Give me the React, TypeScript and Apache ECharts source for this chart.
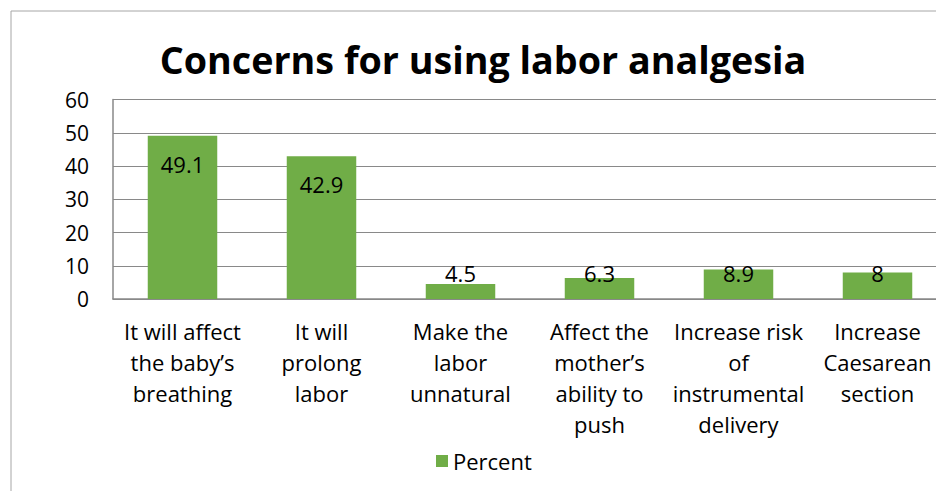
import React, { useEffect, useRef } from "react";
import * as echarts from "echarts";

const categories = [
  "It will affect\nthe baby’s\nbreathing",
  "It will\nprolong\nlabor",
  "Make the\nlabor\nunnatural",
  "Affect the\nmother’s\nability to\npush",
  "Increase risk\nof\ninstrumental\ndelivery",
  "Increase\nCaesarean\nsection",
];
const percentValues = [49.1, 42.9, 4.5, 6.3, 8.9, 8];
const seriesName = "Percent";
const titleText = "Concerns for using labor analgesia";

const FONT = "'Open Sans', Lato, sans-serif";
const GRAY = "#898989";
const GREEN = "#70AD47";

export default function App() {
  const ref = useRef<HTMLDivElement>(null);
  useEffect(() => {
    if (!ref.current) return;
    const chart = echarts.init(ref.current, null, { renderer: "svg" });
    const pxPerUnit = 199.5 / 60;
    const data = percentValues.map((v) => {
      if (v >= 20) {
        return { value: v, label: { position: "insideTop", distance: 17 } };
      }
      return {
        value: v,
        label: { position: "top", distance: -(v - 4.5) * pxPerUnit },
      };
    });
    chart.setOption({
      animation: false,
      backgroundColor: "#ffffff",
      textStyle: { fontFamily: FONT },
      title: {
        text: titleText,
        left: 478,
        textAlign: "center",
        top: 35,
        textStyle: { fontFamily: FONT, fontSize: 37.7, fontWeight: "bold", color: "#000" },
      },
      graphic: [
        {
          type: "rect",
          shape: { x: 11, y: 11, width: 980, height: 520 },
          style: { fill: "none", stroke: "#a6a6a6", lineWidth: 1 },
          z: -1,
        },
      ],
      legend: {
        left: 431,
        top: 445,
        itemWidth: 12,
        itemHeight: 12,
        itemGap: 10,
        icon: "rect",
        textStyle: { fontFamily: FONT, fontSize: 22, color: "#000" },
        data: [seriesName],
      },
      grid: { left: 113, top: 99.5, right: 13, bottom: 192, containLabel: false, outerBoundsMode: "none" },
      xAxis: {
        type: "category",
        data: categories,
        axisLine: { show: true, lineStyle: { color: GRAY, width: 1.5 } },
        axisTick: { show: false },
        axisLabel: {
          interval: 0,
          margin: 16,
          fontFamily: FONT,
          fontSize: 22,
          lineHeight: 31,
          color: "#000",
        },
      },
      yAxis: {
        type: "value",
        min: 0,
        max: 60,
        interval: 10,
        axisLine: { show: true, lineStyle: { color: GRAY, width: 1.5 } },
        axisTick: { show: false },
        axisLabel: { margin: 24, fontFamily: FONT, fontSize: 21, color: "#000" },
        splitLine: { show: true, lineStyle: { color: GRAY, width: 1 } },
      },
      series: [
        {
          name: seriesName,
          type: "bar",
          data,
          barWidth: "50%",
          itemStyle: { color: GREEN },
          label: {
            show: true,
            fontFamily: FONT,
            fontSize: 22,
            color: "#000",
          },
        },
      ],
    });
    return () => chart.dispose();
  }, []);
  return (
    <div style={{ position: "fixed", left: 0, top: 0, width: 936, height: 491, overflow: "hidden", background: "#fff" }}>
      <div ref={ref} style={{ width: 960, height: 491 }} />
    </div>
  );
}
